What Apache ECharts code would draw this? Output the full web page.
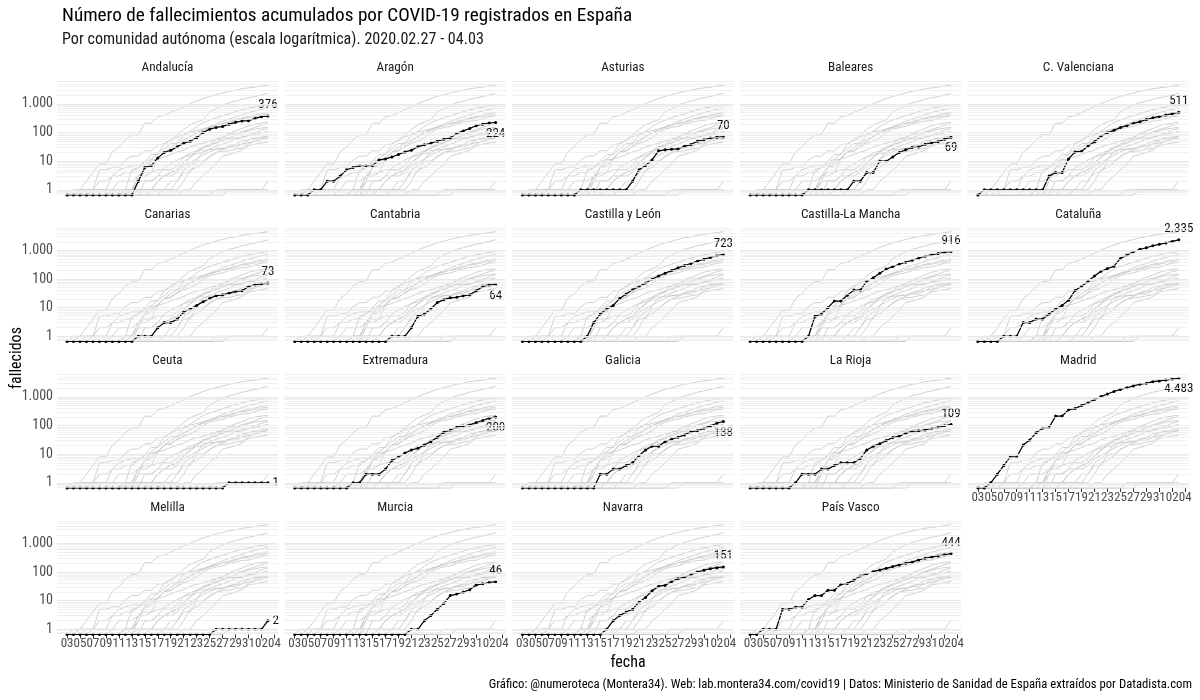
<!DOCTYPE html>
<html>
<head>
<meta charset="utf-8">
<title>Fallecimientos COVID-19 por comunidad autónoma</title>
<script src="https://cdn.jsdelivr.net/npm/echarts@6/dist/echarts.min.js"></script>
<style>
  html, body { margin: 0; padding: 0; background: #fff; }
  #chart { width: 1200px; height: 700px; }
</style>
</head>
<body>
<div id="chart"></div>
<script>
// fechas de los datos (32 días)
const dates = [
  '2020-03-03', '2020-03-04', '2020-03-05', '2020-03-06', '2020-03-07', '2020-03-08',
  '2020-03-09', '2020-03-10', '2020-03-11', '2020-03-12', '2020-03-13', '2020-03-14',
  '2020-03-15', '2020-03-16', '2020-03-17', '2020-03-18', '2020-03-19', '2020-03-20',
  '2020-03-21', '2020-03-22', '2020-03-23', '2020-03-24', '2020-03-25', '2020-03-26',
  '2020-03-27', '2020-03-28', '2020-03-29', '2020-03-30', '2020-03-31', '2020-04-01',
  '2020-04-02', '2020-04-03'
];
// marcas del eje x
const tickDates = [
  '2020-03-03', '2020-03-05', '2020-03-07', '2020-03-09', '2020-03-11', '2020-03-13',
  '2020-03-15', '2020-03-17', '2020-03-19', '2020-03-21', '2020-03-23', '2020-03-25',
  '2020-03-27', '2020-03-29', '2020-03-31', '2020-04-02', '2020-04-04'
];
const yTicks = [1, 10, 100, 1000];

const regions = [
  'Andalucía', 'Aragón', 'Asturias', 'Baleares', 'C. Valenciana',
  'Canarias', 'Cantabria', 'Castilla y León', 'Castilla-La Mancha', 'Cataluña',
  'Ceuta', 'Extremadura', 'Galicia', 'La Rioja', 'Madrid',
  'Melilla', 'Murcia', 'Navarra', 'País Vasco'
];

// fallecidos acumulados
const andalucia = [0,0,0,0,0,0,0,0,0,0,0,2,6,7,13,20,24,32,42,50,66,100,131,150,163,196,226,252,260,310,357,376];
const aragon = [0,0,0,1,1,2,2,3,5,6,7,7,7,11,12,14,17,21,24,32,37,42,50,58,64,95,114,138,172,196,215,224];
const asturias = [0,0,0,0,0,0,0,0,0,1,1,1,1,1,1,1,1,2,5,7,11,23,25,26,27,33,38,50,56,64,69,70];
const baleares = [0,0,0,0,0,0,0,0,0,1,1,1,1,1,1,1,2,2,4,4,10,10,14,20,25,30,31,39,44,48,58,69];
const valenciana = [0,1,1,1,1,1,1,1,1,1,1,3,4,4,12,21,22,34,48,74,98,119,149,176,208,240,284,326,365,408,456,511];
const canarias = [0,0,0,0,0,0,0,0,0,0,0,1,1,1,2,3,3,4,7,9,12,16,21,26,28,32,37,39,55,63,68,73];
const cantabria = [0,0,0,0,0,0,0,0,0,0,0,0,0,0,0,1,1,1,2,5,6,9,15,19,22,23,26,28,39,55,62,64];
const castillaLeon = [0,0,0,0,0,0,0,0,0,0,1,3,6,9,12,21,30,42,55,72,98,128,159,197,245,296,348,420,495,565,651,723];
const castillaMancha = [0,0,0,0,0,0,0,0,0,1,5,6,10,17,17,27,41,41,84,111,158,224,271,327,385,453,533,627,699,776,848,916];
const cataluna = [0,0,0,0,1,1,1,3,3,4,4,6,9,12,18,40,56,83,127,187,231,280,522,683,897,1090,1237,1450,1630,1810,2050,2335];
const ceuta = [0,0,0,0,0,0,0,0,0,0,0,0,0,0,0,0,0,0,0,0,0,0,0,0,0,1,1,1,1,1,1,1];
const extremadura = [0,0,0,0,0,0,0,0,0,1,1,2,2,2,3,6,8,11,14,16,21,27,39,58,70,87,97,105,127,150,181,200];
const galicia = [0,0,0,0,0,0,0,0,0,0,0,0,2,2,3,3,4,5,9,14,19,19,27,33,39,47,61,65,80,97,120,138];
const rioja = [0,0,0,0,0,0,0,1,2,2,2,3,3,4,5,5,5,7,14,19,23,30,38,42,53,63,65,70,80,85,98,109];
const madrid = [0,0,1,2,4,8,8,21,31,56,81,86,213,213,355,390,498,628,804,1021,1263,1535,1825,2090,2412,2757,2982,3392,3603,3865,4175,4483];
const melilla = [0,0,0,0,0,0,0,0,0,0,0,0,0,0,0,0,0,0,0,0,0,0,0,1,1,1,1,1,1,1,1,2];
const murcia = [0,0,0,0,0,0,0,0,0,0,0,0,0,0,0,0,0,0,1,1,2,3,5,8,15,17,20,24,35,39,43,46];
const navarra = [0,0,0,0,0,0,0,0,0,0,0,0,0,1,2,3,4,5,9,13,22,32,34,47,58,66,80,100,115,131,142,151];
const paisVasco = [0,0,1,1,1,5,5,6,6,11,15,15,23,23,37,40,52,72,87,103,118,134,155,177,203,220,265,303,330,366,398,444];

const deaths = [
  andalucia, aragon, asturias, baleares, valenciana,
  canarias, cantabria, castillaLeon, castillaMancha, cataluna,
  ceuta, extremadura, galicia, rioja, madrid,
  melilla, murcia, navarra, paisVasco
];

// dónde va la etiqueta del último valor
const labelPlaces = [
  'top', 'bottom', 'top', 'bottom', 'top',
  'top', 'bottom', 'top', 'top', 'top',
  'right', 'bottom', 'bottom', 'top', 'bottom',
  'right', 'top', 'top', 'top'
];

(function () {
  const FONT = "'Roboto Condensed', 'Liberation Sans Narrow', Roboto, sans-serif";
  const chart = echarts.init(document.getElementById('chart'));

  const colLeft = 57, colStep = 227.7, panelW = 221;
  const rowTop = [80, 226.5, 373, 519.5], panelH = 115;

  // eje x en días desde la primera fecha
  const DAY = 86400000;
  const ts = (s) => new Date(s + 'T00:00:00').getTime();
  const t0 = ts(dates[0]);
  const dayOf = (s) => Math.round((ts(s) - t0) / DAY);
  const days = dates.map(dayOf);
  const tickDays = tickDates.map(dayOf);
  const span = days[days.length - 1] - days[0];
  const xMin = days[0] - span * 0.05, xMax = days[days.length - 1] + span * 0.05;
  const dayLabel = (v) => String(new Date(t0 + Math.round(v) * DAY).getDate()).padStart(2, '0');

  // escala log con 5% de margen, como ggplot; los ceros van al borde inferior
  let maxVal = 0;
  deaths.forEach(d => d.forEach(v => { if (v > maxVal) maxVal = v; }));
  const lmax = Math.log10(maxVal);
  const yMin = Math.pow(10, -lmax * 0.05);
  const yMax = Math.pow(10, lmax * 1.05);

  const fmt = (v) => String(v).replace(/\B(?=(\d{3})+(?!\d))/g, '.');
  const pts = (arr) => arr.map((v, k) => [days[k], v > 0 ? v : yMin]);

  // líneas de rejilla: 1..9 x 10^k
  const gridLines = [];
  [0.1, 1, 10, 100, 1000].forEach(d => {
    for (let m = 1; m <= 9; m++) {
      const v = d * m;
      if (v >= yMin && v <= yMax) {
        gridLines.push({
          yAxis: v,
          lineStyle: { color: '#e9e9e9', width: m === 1 ? 1.1 : 0.7, type: 'solid' }
        });
      }
    }
  });

  const grids = [], xAxes = [], yAxes = [], series = [], texts = [];

  regions.forEach((name, i) => {
    const col = i % 5, row = Math.floor(i / 5);
    const left = colLeft + col * colStep, top = rowTop[row];
    const isBottom = i + 5 >= regions.length;

    grids.push({ left: left, top: top, width: panelW, height: panelH });

    xAxes.push({
      gridIndex: i,
      type: 'value',
      min: xMin,
      max: xMax,
      axisLine: { show: false },
      splitLine: { show: false },
      axisTick: {
        show: isBottom,
        customValues: tickDays,
        length: 4,
        lineStyle: { color: '#333', width: 1 }
      },
      axisLabel: {
        show: isBottom,
        customValues: tickDays,
        formatter: dayLabel,
        showMinLabel: true,
        showMaxLabel: true,
        hideOverlap: false,
        fontSize: 13,
        fontFamily: FONT,
        color: '#4d4d4d',
        margin: 3
      }
    });

    yAxes.push({
      gridIndex: i,
      type: 'log',
      logBase: 10,
      min: yMin,
      max: yMax,
      axisLine: { show: false },
      axisTick: { show: false },
      splitLine: { show: false },
      axisLabel: {
        show: col === 0,
        formatter: (v) => {
          const r = Math.round(v);
          return yTicks.indexOf(r) >= 0 && Math.abs(v - r) < 1e-6 * r ? fmt(r) : '';
        },
        fontSize: 14,
        fontFamily: FONT,
        color: '#4d4d4d',
        margin: 4
      }
    });

    // rejilla
    series.push({
      type: 'line',
      xAxisIndex: i,
      yAxisIndex: i,
      data: [],
      silent: true,
      z: 1,
      markLine: {
        silent: true,
        symbol: ['none', 'none'],
        label: { show: false },
        animation: false,
        data: gridLines
      }
    });

    // todas las comunidades en gris
    deaths.forEach((d) => {
      series.push({
        type: 'line',
        xAxisIndex: i,
        yAxisIndex: i,
        data: pts(d),
        symbol: 'none',
        silent: true,
        clip: false,
        z: 2,
        lineStyle: { color: '#cccccc', width: 0.9 }
      });
    });

    // la comunidad del panel en negro
    const own = pts(deaths[i]);
    const last = deaths[i][deaths[i].length - 1];
    own[own.length - 1] = {
      value: own[own.length - 1],
      label: {
        show: true,
        position: labelPlaces[i],
        distance: 3,
        formatter: fmt(last),
        fontSize: 13,
        fontFamily: FONT,
        color: '#111'
      }
    };
    series.push({
      type: 'line',
      xAxisIndex: i,
      yAxisIndex: i,
      data: own,
      symbol: 'circle',
      symbolSize: 3,
      showAllSymbol: true,
      clip: false,
      z: 3,
      itemStyle: { color: '#000' },
      lineStyle: { color: '#000', width: 1.2 }
    });

    texts.push({
      type: 'text',
      x: left + panelW / 2,
      y: top - 12,
      style: {
        text: name,
        fill: '#1a1a1a',
        fontSize: 13.2,
        fontFamily: FONT,
        align: 'center',
        verticalAlign: 'middle'
      }
    });
  });

  texts.push(
    {
      type: 'text', x: 62, y: 16,
      style: {
        text: 'Número de fallecimientos acumulados por COVID-19 registrados en España',
        fill: '#000', fontSize: 19.2, fontFamily: FONT, align: 'left', verticalAlign: 'middle'
      }
    },
    {
      type: 'text', x: 62, y: 40,
      style: {
        text: 'Por comunidad autónoma (escala logarítmica). 2020.02.27 - 04.03',
        fill: '#1a1a1a', fontSize: 16.1, fontFamily: FONT, align: 'left', verticalAlign: 'middle'
      }
    },
    {
      type: 'text', x: 17, y: 358, rotation: Math.PI / 2,
      style: {
        text: 'fallecidos',
        fill: '#000', fontSize: 16, fontFamily: FONT, align: 'center', verticalAlign: 'middle'
      }
    },
    {
      type: 'text', x: 628, y: 663,
      style: {
        text: 'fecha',
        fill: '#000', fontSize: 16, fontFamily: FONT, align: 'center', verticalAlign: 'middle'
      }
    },
    {
      type: 'text', x: 1192, y: 685,
      style: {
        text: 'Gráfico: @numeroteca (Montera34). Web: lab.montera34.com/covid19 | Datos: Ministerio de Sanidad de España extraídos por Datadista.com',
        fill: '#000', fontSize: 12.7, fontFamily: FONT, align: 'right', verticalAlign: 'middle'
      }
    }
  );

  const option = {
    backgroundColor: '#ffffff',
    animation: false,
    grid: grids,
    xAxis: xAxes,
    yAxis: yAxes,
    series: series,
    graphic: texts
  };

  chart.setOption(option, true);
})();
</script>
</body>
</html>
